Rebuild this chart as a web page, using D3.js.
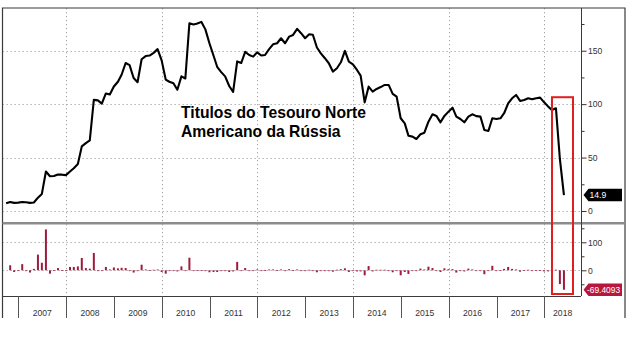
<!DOCTYPE html>
<html><head><meta charset="utf-8">
<script src="https://cdn.jsdelivr.net/npm/d3@7"></script>
<style>
html,body{margin:0;padding:0;background:#fff;}
svg{display:block;font-family:"Liberation Sans",Arial,sans-serif;}
</style>
</head><body>
<svg id="c" width="641" height="338"></svg>
<script>
// ---------- DATA ----------
const startYear = 2006, startMonthIndex = 8; // September 2006, monthly (month end)
const holdings = [
  7.2, 8.4, 7.6, 7.8, 8.4, 8.2, 7.6, 8.0, 12.5, 16, 37, 32.5,
  32.8, 34.2, 34, 33.6, 37, 40, 44, 60.5, 63.5, 66, 104, 103.5,
  100.5, 110, 109, 116.5, 121, 127.5, 138.5, 136.5, 124.5, 120.5, 142, 145,
  145.5, 148, 151.5, 141, 123, 121, 119.5, 113.5, 126, 124, 175.7, 174.5,
  175.5, 177, 170, 157, 145.5, 135, 130, 126, 117, 111.5, 140, 138.5,
  149, 146, 144.5, 148.5, 145.5, 146, 151.5, 156, 157, 161.7, 157, 163.2,
  164.8, 170.5, 166.4, 161.7, 165.4, 165, 153, 147.6, 143, 138.3, 130.5, 133.6,
  139.2, 149.8, 139.8, 137.3, 132, 126.7, 101.7, 116.4, 111.7, 114.2, 116, 118,
  118, 109.6, 107, 86.8, 82, 70.5, 69.6, 67.4, 71.8, 73.3, 83.6, 90.5,
  89, 83, 89, 93, 96.7, 88.3, 86.1, 83, 88.3, 90.5, 88.8, 88.3,
  75.8, 74.9, 86.8, 86.1, 86.8, 91.5, 100.8, 105.5, 108.6, 103, 103.9, 105.5,
  104.6, 105.5, 106.1, 101.7, 97.7, 94.6, 96.1, 48.7, 14.9
];
const pctChange = [
  null, 18, -6, 1, 22, -3, -8, 5, 56, 27, 146, -12,
  1, 8, 1, -1, 12, 12, 14, 44, 8, 6, 62, -3,
  -2, 12, 3, 10, 7, 9, 8, -1, -8, -3, 20, 3,
  1, 2, 3, -6, -12, -2, -1, -4, 14, -1, 45, -1,
  1, 1, -3, -7, -6, -6, -3, -3, -6, -4, 30, -1,
  8, -2, -1, 3, -2, 1, 3, 3, 1, 3, -3, 4,
  1, 3, -2, -3, 2, -1, -7, -3, -3, -3, -5, 2,
  4, 7, -6, -2, -4, -4, -18, 15, -4, 2, 2, 2,
  0, -7, -2, -18, -6, -13, -1, -3, 6, 3, 13, 8,
  -2, -6, 7, 4, 4, -8, -3, -4, 6, 3, -2, -1,
  -14, -1, 16, -1, 1, 5, 12, 5, 3, -5, 1, 2,
  -1, 1, 1, -4, -4, -3, 2, -49.3, -69.4093
];
const yearLabels = ["2007","2008","2009","2010","2011","2012","2013","2014","2015","2016","2017","2018"];
const gridYears = [2008, 2010, 2012, 2014, 2016, 2018];
const topTicks = [0, 50, 100, 150];
const topMinorTicks = [25, 75, 125, 175];
const lowTicks = [0, 100];
const lowMinorTicks = [-50, 50, 150];
const titleLines = ["Titulos do Tesouro Norte", "Americano da Rússia"];
const lastValueLabel = "14.9";
const lastChangeLabel = "-69.4093";
const highlightMonths = [[2018, 1], [2018, 6]]; // red box around the 2018 sell-off

// ---------- LAYOUT ----------
const L = 2.5, R = 581, FR = 625, T = 8, DIV = 223.3, B = 296, FB = 318;
const svg = d3.select("#c");
const dates = holdings.map((_, i) => new Date(startYear, startMonthIndex + i + 1, 0));

const x = d3.scaleTime().domain([new Date(2007,0,1), new Date(2018,0,1)]).range([18.3, 544.3]);
const yTop = d3.scaleLinear().domain([-10.3, 190]).range([222, 8]);
const yLow = d3.scaleLinear().domain([-91.8, 172.5]).range([296, 222]);

const gridCol = "#a8a8a8";
// vertical dotted gridlines
svg.append("g").selectAll("line").data(gridYears).join("line")
  .attr("x1", d => Math.round(x(new Date(d,0,1))) + 0.5).attr("x2", d => Math.round(x(new Date(d,0,1))) + 0.5)
  .attr("y1", T).attr("y2", B)
  .attr("stroke", gridCol).attr("stroke-width", 1).attr("stroke-dasharray", "1.3,2.7");
// horizontal dotted gridlines
svg.append("g").selectAll("line").data(topTicks).join("line")
  .attr("x1", L).attr("x2", R)
  .attr("y1", d => Math.round(yTop(d)) + 0.5).attr("y2", d => Math.round(yTop(d)) + 0.5)
  .attr("stroke", gridCol).attr("stroke-dasharray", "1.3,2.7");
svg.append("g").selectAll("line").data(lowTicks).join("line")
  .attr("x1", L).attr("x2", R)
  .attr("y1", d => Math.round(yLow(d)) + 0.5).attr("y2", d => Math.round(yLow(d)) + 0.5)
  .attr("stroke", gridCol).attr("stroke-dasharray", "1.3,2.7");

// bars
svg.append("g").selectAll("rect").data(pctChange.map((v, i) => ({v, d: dates[i]})).filter(o => o.v !== null)).join("rect")
  .attr("x", o => x(o.d) - 1)
  .attr("width", 2)
  .attr("y", o => Math.min(yLow(o.v), yLow(0)))
  .attr("height", o => Math.max(0.8, Math.abs(yLow(o.v) - yLow(0))))
  .attr("fill", "#9d1c3e");

// line
const line = d3.line().x((d, i) => x(dates[i])).y(d => yTop(d)).curve(d3.curveLinear);
svg.append("path").datum(holdings).attr("d", line)
  .attr("fill", "none").attr("stroke", "#000").attr("stroke-width", 2.1).attr("stroke-linejoin", "round");

// frame & dividers
const frameCol = "#3a3a3a";
svg.append("path").attr("d", `M${L},${FB}V${T}H${FR}V${FB}`).attr("fill", "none").attr("stroke", frameCol).attr("stroke-width", 1.2);
svg.append("line").attr("x1", L).attr("x2", FR).attr("y1", DIV).attr("y2", DIV).attr("stroke", "#8c8c8c").attr("stroke-width", 2.6);
svg.append("line").attr("x1", L).attr("x2", R).attr("y1", B + 0.5).attr("y2", B + 0.5).attr("stroke", frameCol).attr("stroke-width", 1);
svg.append("line").attr("x1", R + 0.5).attr("x2", R + 0.5).attr("y1", T).attr("y2", B).attr("stroke", frameCol).attr("stroke-width", 1);

// right axes
function rightAxis(scale, major, minor) {
  const g = svg.append("g").attr("transform", `translate(${R + 0.5},0)`);
  g.call(d3.axisRight(scale).tickValues(major).tickSize(5).tickPadding(1.5).tickFormat(d3.format("d")));
  const g2 = svg.append("g").attr("transform", `translate(${R + 0.5},0)`);
  g2.call(d3.axisRight(scale).tickValues(minor).tickSize(3).tickFormat(""));
  [g, g2].forEach(a => {
    a.select(".domain").remove();
    a.selectAll("line").attr("stroke", "#333");
    a.selectAll("text").attr("fill", "#333").attr("font-size", "8.6px").attr("font-family", "Liberation Sans, Arial, sans-serif");
  });
}
rightAxis(yTop, topTicks, topMinorTicks);
rightAxis(yLow, lowTicks, lowMinorTicks);

// year axis
const yearStarts = yearLabels.map(s => x(new Date(+s, 0, 1)));
svg.append("g").selectAll("line").data(yearStarts).join("line")
  .attr("x1", d => Math.round(d) + 0.5).attr("x2", d => Math.round(d) + 0.5)
  .attr("y1", B).attr("y2", FB).attr("stroke", "#555").attr("stroke-width", 1);
svg.append("g").selectAll("text").data(yearLabels).join("text")
  .attr("x", (s, i) => (yearStarts[i] + Math.min(R, x(new Date(+s + 1, 0, 1)))) / 2)
  .attr("y", 316).attr("text-anchor", "middle")
  .attr("font-size", "8.6px").attr("fill", "#333").text(s => s);

// highlight box
const hx0 = x(new Date(highlightMonths[0][0], highlightMonths[0][1], 1)) - 1;
svg.append("rect")
  .attr("x", 552).attr("y", yTop(106.5))
  .attr("width", 21).attr("height", B - 2 - yTop(106.5))
  .attr("fill", "none").attr("stroke", "#e0201f").attr("stroke-width", 2);

// value tags
function tag(yv, fill, label) {
  const x0 = R + 2.5, h = 12.5, w = 38.5;
  svg.append("path")
    .attr("d", `M${x0},${yv} L${x0 + 5},${yv - h/2} H${x0 + w} V${yv + h/2} H${x0 + 5} Z`)
    .attr("fill", fill);
  svg.append("text").attr("x", x0 + (label.length > 5 ? 3.5 : 6)).attr("y", yv + 3.1)
    .attr("font-size", label.length > 5 ? "8.4px" : "8.6px").attr("fill", "#fff").text(label);
}
tag(yTop(holdings[holdings.length - 1]), "#000", lastValueLabel);
tag(yLow(pctChange[pctChange.length - 1]), "#b8163d", lastChangeLabel);

// title
svg.append("text").attr("x", 181).attr("y", 118.3)
  .attr("font-size", "15.7px").attr("font-weight", "bold").attr("fill", "#000")
  .selectAll("tspan").data(titleLines).join("tspan")
  .attr("x", 181).attr("dy", (d, i) => i === 0 ? 0 : 18.5).text(d => d);
</script>
</body></html>
